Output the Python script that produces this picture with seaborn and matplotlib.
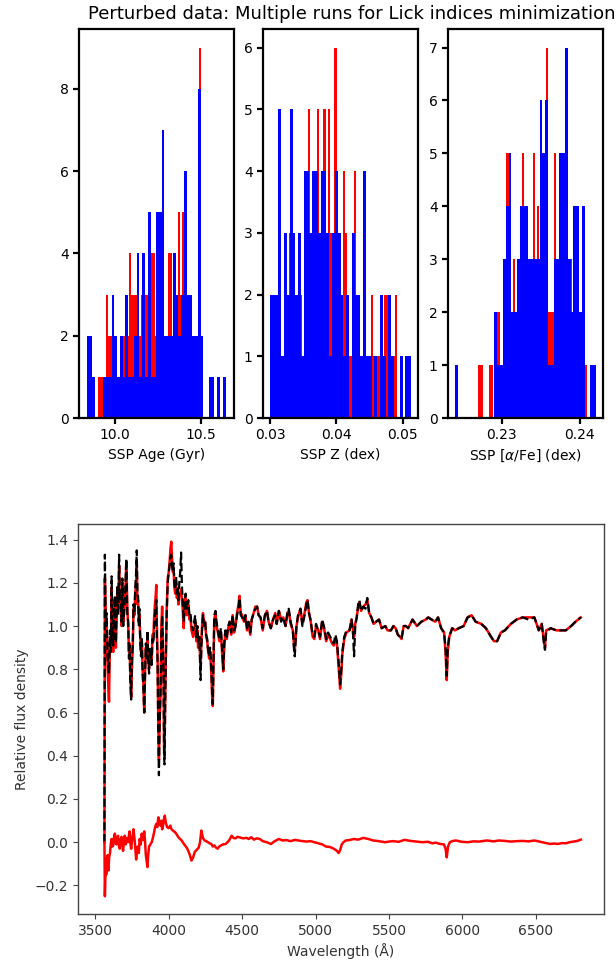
import numpy as np
import pandas as pd
import matplotlib
matplotlib.use("Agg")
import matplotlib.pyplot as plt
import seaborn as sns

plt.rcParams['font.family'] = ['DejaVu Sans']

# ---------------- histogram data (bin counts, 50 bins each) ----------------
age_blue_range = (9.835, 10.643)
age_blue_counts = [2, 2, 1, 0, 0, 0, 1, 1, 1, 3, 2, 1, 2, 1, 3, 1, 1, 2, 4, 1,
                   4, 1, 5, 1, 1, 5, 5, 7, 2, 2, 2, 4, 3, 2, 3, 6, 3, 3, 2, 2,
                   8, 2, 0, 0, 1, 1, 0, 1, 0, 1]
age_red_range = (9.899, 10.500)
age_red_counts = [1, 1, 1, 1, 3, 2, 2, 1, 1, 1, 1, 1, 2, 2, 2, 4, 3, 3, 3, 2,
                  2, 3, 3, 3, 3, 4, 4, 4, 2, 2, 2, 2, 2, 2, 4, 4, 2, 2, 3, 5,
                  3, 5, 4, 3, 3, 2, 2, 2, 2, 9]

z_blue_range = (0.0300, 0.05126)
z_blue_counts = [2, 2, 2, 5, 1, 3, 2, 5, 3, 2, 3, 1, 4, 4, 3, 4, 4, 3, 4, 4,
                 3, 1, 3, 4, 3, 2, 1, 2, 0, 3, 2, 2, 1, 4, 1, 1, 0, 1, 0, 2,
                 1, 0, 2, 1, 0, 0, 1, 0, 1, 1]
z_red_range = (0.03283, 0.04919)
z_red_counts = [3, 2, 2, 2, 2, 2, 1, 2, 3, 5, 3, 3, 3, 5, 2, 3, 5, 3, 5, 3,
                3, 6, 3, 2, 2, 4, 3, 1, 1, 2, 4, 1, 1, 1, 1, 1, 1, 1, 2, 1,
                1, 1, 2, 1, 2, 2, 1, 1, 1, 2]

afe_blue_range = (0.22404, 0.24206)
afe_blue_counts = [1, 0, 0, 0, 0, 0, 0, 0, 0, 0, 0, 0, 0, 0, 2, 1, 1, 3, 4, 5,
                   2, 2, 3, 4, 4, 4, 3, 3, 3, 3, 6, 5, 6, 1, 1, 3, 3, 5, 5, 7,
                   3, 2, 4, 4, 2, 4, 0, 0, 1, 1]
afe_red_range = (0.2270, 0.2409)
afe_red_counts = [1, 1, 0, 0, 0, 1, 1, 0, 2, 2, 1, 1, 2, 5, 2, 2, 3, 2, 3, 3,
                  5, 3, 3, 3, 3, 5, 3, 4, 3, 4, 4, 7, 2, 2, 2, 5, 3, 2, 3, 3,
                  3, 3, 3, 2, 2, 2, 2, 1, 1, 1]

hist_xlabels = ["SSP Age (Gyr)", "SSP Z (dex)", "SSP [$\\alpha$/Fe] (dex)"]
hist_xticks = [[10.0, 10.5], [0.03, 0.04, 0.05], [0.23, 0.24]]
hist_xticklabels = [["10.0", "10.5"], ["0.03", "0.04", "0.05"], ["0.23", "0.24"]]
title_text = "Perturbed data: Multiple runs for Lick indices minimization"

# ---------------- spectrum data ----------------
wave = [3562, 3565, 3571, 3577, 3584, 3593, 3600, 3606, 3611, 3617, 3622, 3628, 3633, 3640,
        3649, 3656, 3662, 3667, 3673, 3679, 3684, 3690, 3695, 3703, 3711, 3718, 3724, 3729,
        3733, 3738, 3744, 3750, 3755, 3760, 3766, 3772, 3778, 3782, 3787, 3791, 3796, 3800,
        3806, 3811, 3817, 3822, 3828, 3833, 3838, 3844, 3850, 3855, 3860, 3866, 3871, 3877,
        3884, 3889, 3896, 3901, 3906, 3912, 3915, 3919, 3924, 3928, 3933, 3938, 3944, 3950,
        3955, 3960, 3965, 3968, 3971, 3975, 3980, 3986, 3993, 4000, 4006, 4012, 4017, 4022,
        4028, 4033, 4038, 4044, 4050, 4055, 4061, 4066, 4072, 4078, 4084, 4090, 4095, 4102,
        4108, 4115, 4122, 4133, 4141, 4148, 4155, 4166, 4173, 4180, 4188, 4195, 4200, 4208,
        4212, 4217, 4222, 4228, 4233, 4240, 4248, 4255, 4262, 4266, 4275, 4282, 4290, 4296,
        4300, 4305, 4310, 4318, 4325, 4335, 4345, 4355, 4365, 4371, 4378, 4385, 4395, 4405,
        4415, 4425, 4435, 4445, 4455, 4465, 4475, 4482, 4490, 4500, 4512, 4522, 4533, 4544,
        4555, 4565, 4578, 4590, 4602, 4612, 4625, 4640, 4655, 4669, 4680, 4695, 4710, 4725,
        4735, 4750, 4765, 4780, 4795, 4808, 4817, 4830, 4845, 4852, 4858, 4863, 4870, 4880,
        4897, 4910, 4925, 4937, 4945, 4955, 4965, 4980, 4991, 5003, 5018, 5030, 5045, 5060,
        5072, 5085, 5100, 5112, 5124, 5135, 5145, 5155, 5167, 5175, 5182, 5195, 5210, 5231,
        5245, 5255, 5262, 5270, 5280, 5290, 5298, 5310, 5325, 5340, 5352, 5365, 5380, 5395,
        5412, 5432, 5450, 5475, 5490, 5513, 5530, 5545, 5560, 5575, 5585, 5600, 5615, 5630,
        5660, 5690, 5720, 5750, 5767, 5790, 5815, 5834, 5855, 5875, 5885, 5893, 5900, 5910,
        5930, 5950, 5975, 6008, 6035, 6062, 6090, 6128, 6160, 6195, 6215, 6236, 6262, 6289,
        6330, 6369, 6410, 6450, 6490, 6520, 6540, 6555, 6562, 6570, 6600, 6640, 6670, 6704,
        6740, 6770, 6806]
flux_obs = [0.00, 1.33, 1.00, 1.06, 0.85, 0.78, 0.98, 0.88, 1.23, 0.95, 0.91, 1.08, 1.14, 0.92,
            1.18, 1.05, 1.33, 1.12, 1.14, 1.02, 1.22, 1.00, 1.06, 1.15, 1.31, 1.05, 1.02, 0.85,
            0.91, 0.75, 0.66, 0.85, 0.92, 1.10, 1.06, 1.18, 1.25, 1.35, 1.14, 1.14, 1.00, 1.08,
            0.92, 0.86, 0.95, 0.78, 0.70, 0.60, 0.75, 0.92, 0.85, 0.98, 0.85, 0.78, 0.90, 0.86,
            0.82, 0.94, 0.92, 1.00, 1.05, 1.10, 1.12, 0.95, 0.83, 0.55, 0.31, 0.55, 0.68, 0.95,
            1.05, 0.90, 0.75, 0.40, 0.36, 0.60, 0.83, 1.05, 1.20, 1.25, 1.28, 1.32, 1.33, 1.28,
            1.25, 1.29, 1.20, 1.17, 1.23, 1.15, 1.18, 1.12, 1.20, 1.25, 1.34, 1.18, 1.12, 1.02,
            1.12, 1.15, 1.08, 1.12, 1.05, 1.06, 1.00, 0.98, 1.02, 1.05, 0.95, 1.00, 0.92, 0.95,
            0.86, 0.75, 0.90, 1.00, 1.05, 1.00, 1.02, 0.96, 0.94, 0.90, 0.86, 0.90, 0.80, 0.68,
            0.64, 0.85, 1.05, 1.07, 1.02, 0.98, 0.94, 0.99, 0.88, 0.80, 0.92, 0.98, 0.95, 1.00,
            1.02, 0.97, 1.05, 0.98, 1.00, 1.05, 1.08, 1.13, 1.05, 1.04, 1.02, 1.05, 0.99, 1.02,
            0.97, 1.03, 1.06, 1.08, 1.09, 1.05, 1.04, 0.99, 1.05, 1.07, 1.02, 0.99, 1.03, 1.05,
            1.01, 1.07, 1.02, 1.04, 1.00, 1.06, 1.08, 1.02, 0.98, 0.90, 0.86, 0.92, 1.00, 1.05,
            1.08, 1.00, 1.05, 1.10, 1.12, 1.06, 1.03, 0.96, 0.95, 1.01, 0.98, 0.95, 1.03, 0.99,
            0.94, 0.97, 0.95, 0.93, 0.92, 0.96, 0.93, 0.85, 0.73, 0.80, 0.88, 0.95, 0.98, 0.98,
            1.03, 0.96, 0.86, 1.00, 1.04, 1.10, 1.12, 1.07, 1.09, 1.08, 1.13, 1.06, 1.04, 1.01,
            1.02, 1.03, 0.99, 1.00, 0.98, 0.98, 1.00, 0.99, 0.96, 0.95, 0.94, 1.00, 1.00, 0.99,
            1.03, 1.00, 1.02, 1.03, 1.04, 1.03, 1.02, 1.04, 0.99, 0.97, 0.90, 0.77, 0.90, 0.95,
            0.99, 0.98, 0.99, 1.00, 1.04, 1.05, 1.02, 1.01, 0.99, 0.95, 0.93, 0.93, 0.97, 0.98,
            1.01, 1.03, 1.04, 1.03, 1.04, 0.98, 1.01, 0.92, 0.89, 0.97, 0.99, 0.98, 0.98, 0.98,
            1.00, 1.02, 1.04]
flux_model = [0.00, 1.22, 1.05, 1.00, 0.80, 0.65, 0.95, 0.90, 1.18, 0.92, 0.88, 1.05, 1.12, 0.90,
              1.15, 1.08, 1.28, 1.10, 1.16, 1.00, 1.20, 1.02, 1.05, 1.12, 1.30, 1.08, 1.00, 0.88,
              0.92, 0.78, 0.67, 0.82, 0.90, 1.08, 1.05, 1.15, 1.20, 1.30, 1.10, 1.12, 1.02, 1.05,
              0.95, 0.88, 0.92, 0.80, 0.72, 0.60, 0.78, 0.90, 0.87, 0.95, 0.84, 0.80, 0.88, 0.88,
              0.85, 0.96, 0.96, 1.05, 1.10, 1.15, 1.19, 1.00, 0.85, 0.60, 0.38, 0.55, 0.70, 1.00,
              1.09, 0.92, 0.74, 0.45, 0.40, 0.62, 0.85, 1.08, 1.22, 1.25, 1.30, 1.36, 1.39, 1.32,
              1.25, 1.27, 1.18, 1.15, 1.20, 1.13, 1.15, 1.10, 1.15, 1.15, 1.17, 1.12, 1.08, 0.99,
              1.10, 1.13, 1.05, 1.10, 1.03, 1.04, 0.98, 0.95, 0.98, 1.02, 0.93, 0.98, 0.90, 0.95,
              0.88, 0.80, 0.92, 1.02, 1.06, 1.02, 1.02, 0.95, 0.93, 0.90, 0.85, 0.88, 0.78, 0.66,
              0.63, 0.83, 1.03, 1.06, 1.00, 0.97, 0.93, 0.97, 0.86, 0.79, 0.90, 0.97, 0.94, 0.99,
              1.02, 0.96, 1.05, 0.97, 1.00, 1.06, 1.10, 1.14, 1.06, 1.05, 1.02, 1.05, 0.98, 1.01,
              0.96, 1.03, 1.06, 1.09, 1.09, 1.05, 1.04, 0.98, 1.05, 1.07, 1.02, 0.99, 1.03, 1.06,
              1.01, 1.07, 1.03, 1.04, 1.00, 1.06, 1.07, 1.01, 0.98, 0.92, 0.88, 0.94, 1.00, 1.04,
              1.08, 1.01, 1.06, 1.11, 1.12, 1.06, 1.03, 0.95, 0.94, 1.00, 0.98, 0.94, 1.02, 0.98,
              0.93, 0.96, 0.94, 0.92, 0.91, 0.94, 0.92, 0.83, 0.71, 0.78, 0.87, 0.94, 0.97, 0.98,
              1.03, 0.98, 0.95, 1.01, 1.04, 1.09, 1.11, 1.07, 1.09, 1.10, 1.12, 1.06, 1.04, 1.01,
              1.02, 1.03, 0.99, 1.00, 0.98, 0.98, 1.00, 0.99, 0.96, 0.95, 0.94, 1.00, 1.00, 0.99,
              1.03, 1.00, 1.02, 1.03, 1.04, 1.03, 1.02, 1.04, 0.99, 0.97, 0.88, 0.75, 0.88, 0.95,
              0.99, 0.98, 0.99, 1.00, 1.04, 1.05, 1.02, 1.01, 0.99, 0.95, 0.93, 0.93, 0.97, 0.98,
              1.01, 1.03, 1.04, 1.04, 1.04, 0.98, 1.01, 0.93, 0.90, 0.98, 0.99, 0.98, 0.98, 0.98,
              1.00, 1.02, 1.04]

res_wave = [3562, 3565, 3568, 3571, 3574, 3577, 3580, 3584, 3587, 3590, 3594, 3600, 3605, 3611,
            3616, 3622, 3627, 3633, 3638, 3644, 3649, 3655, 3660, 3666, 3672, 3678, 3683, 3689,
            3694, 3700, 3706, 3711, 3722, 3733, 3738, 3744, 3752, 3760, 3769, 3778, 3784, 3789,
            3796, 3802, 3809, 3816, 3824, 3833, 3838, 3844, 3850, 3855, 3860, 3866, 3875, 3884,
            3892, 3900, 3907, 3915, 3922, 3929, 3936, 3944, 3950, 3955, 3962, 3968, 3973, 3980,
            3989, 4000, 4011, 4019, 4027, 4035, 4044, 4055, 4066, 4077, 4088, 4100, 4111, 4122,
            4133, 4144, 4155, 4166, 4177, 4190, 4204, 4213, 4222, 4233, 4244, 4255, 4266, 4278,
            4290, 4300, 4311, 4322, 4333, 4344, 4355, 4370, 4388, 4400, 4411, 4420, 4428, 4440,
            4455, 4468, 4480, 4505, 4530, 4545, 4562, 4580, 4600, 4620, 4640, 4668, 4696, 4722,
            4750, 4775, 4800, 4830, 4860, 4900, 4940, 4965, 4991, 5018, 5045, 5071, 5098, 5124,
            5145, 5157, 5168, 5178, 5190, 5205, 5230, 5260, 5290, 5325, 5360, 5392, 5430, 5472,
            5500, 5526, 5566, 5606, 5646, 5687, 5727, 5767, 5794, 5820, 5847, 5874, 5885, 5893,
            5902, 5914, 5935, 5955, 5995, 6035, 6075, 6115, 6142, 6169, 6209, 6249, 6289, 6329,
            6370, 6410, 6450, 6490, 6517, 6544, 6570, 6597, 6624, 6650, 6677, 6704, 6730, 6757,
            6782, 6806]
residual = [0.00, -0.25, -0.17, -0.10, -0.15, -0.12, -0.07, -0.06, -0.10, -0.13, -0.07, -0.05,
            -0.01, 0.015, -0.02, -0.015, 0.02, 0.04, 0.00, -0.01, 0.025, 0.03, -0.01, -0.03,
            0.01, 0.025, -0.01, -0.04, 0.00, 0.03, -0.01, 0.02, 0.00, 0.05, 0.00, -0.03, 0.02,
            0.06, 0.00, -0.08, -0.04, -0.02, -0.05, 0.015, -0.01, 0.04, 0.01, 0.05, 0.01, -0.06,
            -0.09, -0.115, -0.06, -0.02, -0.01, 0.00, 0.02, 0.045, 0.07, 0.085, 0.07, 0.115,
            0.09, 0.077, 0.10, 0.06, 0.08, 0.11, 0.123, 0.09, 0.07, 0.065, 0.077, 0.06, 0.055,
            0.05, 0.046, 0.035, 0.023, 0.015, 0.008, -0.005, -0.015, -0.025, -0.04, -0.06,
            -0.085, -0.07, -0.045, -0.035, -0.025, 0.00, 0.054, 0.02, 0.008, 0.005, 0.0, -0.005,
            -0.008, -0.02, -0.015, -0.025, -0.03, -0.02, -0.015, -0.01, -0.008, 0.0, 0.008,
            0.02, 0.03, 0.02, 0.018, 0.025, 0.023, 0.018, 0.02, 0.015, 0.023, 0.012, 0.018,
            0.015, 0.005, 0.0, -0.008, 0.005, 0.015, 0.008, 0.01, 0.005, 0.011, 0.006, 0.003,
            0.005, 0.0, -0.005, -0.01, -0.02, -0.022, -0.03, -0.04, -0.05, -0.035, -0.01, 0.0,
            0.008, 0.01, 0.015, 0.012, 0.02, 0.015, 0.008, 0.005, 0.0, 0.003, 0.005, 0.002,
            0.011, 0.006, 0.003, 0.0, 0.002, -0.005, -0.002, -0.008, -0.01, -0.03, -0.07, -0.02,
            0.0, 0.006, 0.008, 0.002, 0.0, 0.004, 0.003, 0.006, 0.008, 0.004, 0.008, 0.006,
            0.003, 0.005, 0.006, 0.004, 0.008, 0.004, 0.0, -0.004, -0.008, -0.006, -0.008,
            -0.004, -0.005, 0.0, 0.003, 0.006, 0.012]

# ---------------- figure ----------------
W, H = 616, 965
fig = plt.figure(figsize=(W / 100, H / 100), dpi=100)


def add_ax(l, t, r, b):
    return fig.add_axes([l / W, 1 - b / H, (r - l) / W, (b - t) / H])


def draw_hist(ax, counts, rng, color):
    edges = np.linspace(rng[0], rng[1], len(counts) + 1)
    centers = 0.5 * (edges[:-1] + edges[1:])
    df = pd.DataFrame({"value": centers, "count": np.asarray(counts, dtype=float)})
    sns.histplot(data=df, x="value", weights="count", bins=len(counts),
                 binrange=(rng[0], rng[1]), color=color,
                 alpha=1, linewidth=0, fill=True, element="bars", ax=ax)


hist_axes = [add_ax(79, 29, 234, 418), add_ax(263, 29, 418, 418), add_ax(448, 29, 603, 418)]
panels = [
    (age_red_counts, age_red_range, age_blue_counts, age_blue_range, (9.791, 10.692), 9.45),
    (z_red_counts, z_red_range, z_blue_counts, z_blue_range, (0.02894, 0.05232), 6.3),
    (afe_red_counts, afe_red_range, afe_blue_counts, afe_blue_range, (0.22314, 0.24296), 7.35),
]
for i, (ax, (rc, rr, bc, br, xl, ytop)) in enumerate(zip(hist_axes, panels)):
    draw_hist(ax, rc, rr, "#ff0000")
    draw_hist(ax, bc, br, "#0000ff")
    ax.set_xlim(*xl)
    ax.set_ylim(0, ytop)
    ax.set_xticks(hist_xticks[i])
    ax.set_xticklabels(hist_xticklabels[i])
    ax.set_ylabel("")
    ax.set_xlabel(hist_xlabels[i], fontsize=10)
    for s in ax.spines.values():
        s.set_linewidth(1.6)
        s.set_color("black")
    ax.tick_params(width=1.6, length=4, labelsize=10, colors="black")

fig.text(352 / W, 1 - 14 / H, title_text, ha="center", va="center", fontsize=13)

# ---------------- spectrum panel ----------------
ax = add_ax(78, 524, 604, 914)
sns.lineplot(x=wave, y=flux_model, color="red", linewidth=1.8, ax=ax,
             estimator=None, sort=False)
sns.lineplot(x=wave, y=flux_obs, color="black", linewidth=1.6, linestyle="--",
             ax=ax, estimator=None, sort=False)
sns.lineplot(x=res_wave, y=residual, color="red", linewidth=1.8, ax=ax,
             estimator=None, sort=False)
ax.set_xlim(3382, 6964)
ax.set_ylim(-0.332, 1.472)
ax.set_xticks([3500, 4000, 4500, 5000, 5500, 6000, 6500])
ax.set_yticks([-0.2, 0.0, 0.2, 0.4, 0.6, 0.8, 1.0, 1.2, 1.4])
ax.set_xlabel("Wavelength (Å)", fontsize=10, color="#333333")
ax.set_ylabel("Relative flux density", fontsize=10, color="#333333")
for s in ax.spines.values():
    s.set_linewidth(1.0)
    s.set_color("#444444")
ax.tick_params(labelsize=10, colors="#444444", labelcolor="#333333")

fig.savefig("out.png", dpi=100)
